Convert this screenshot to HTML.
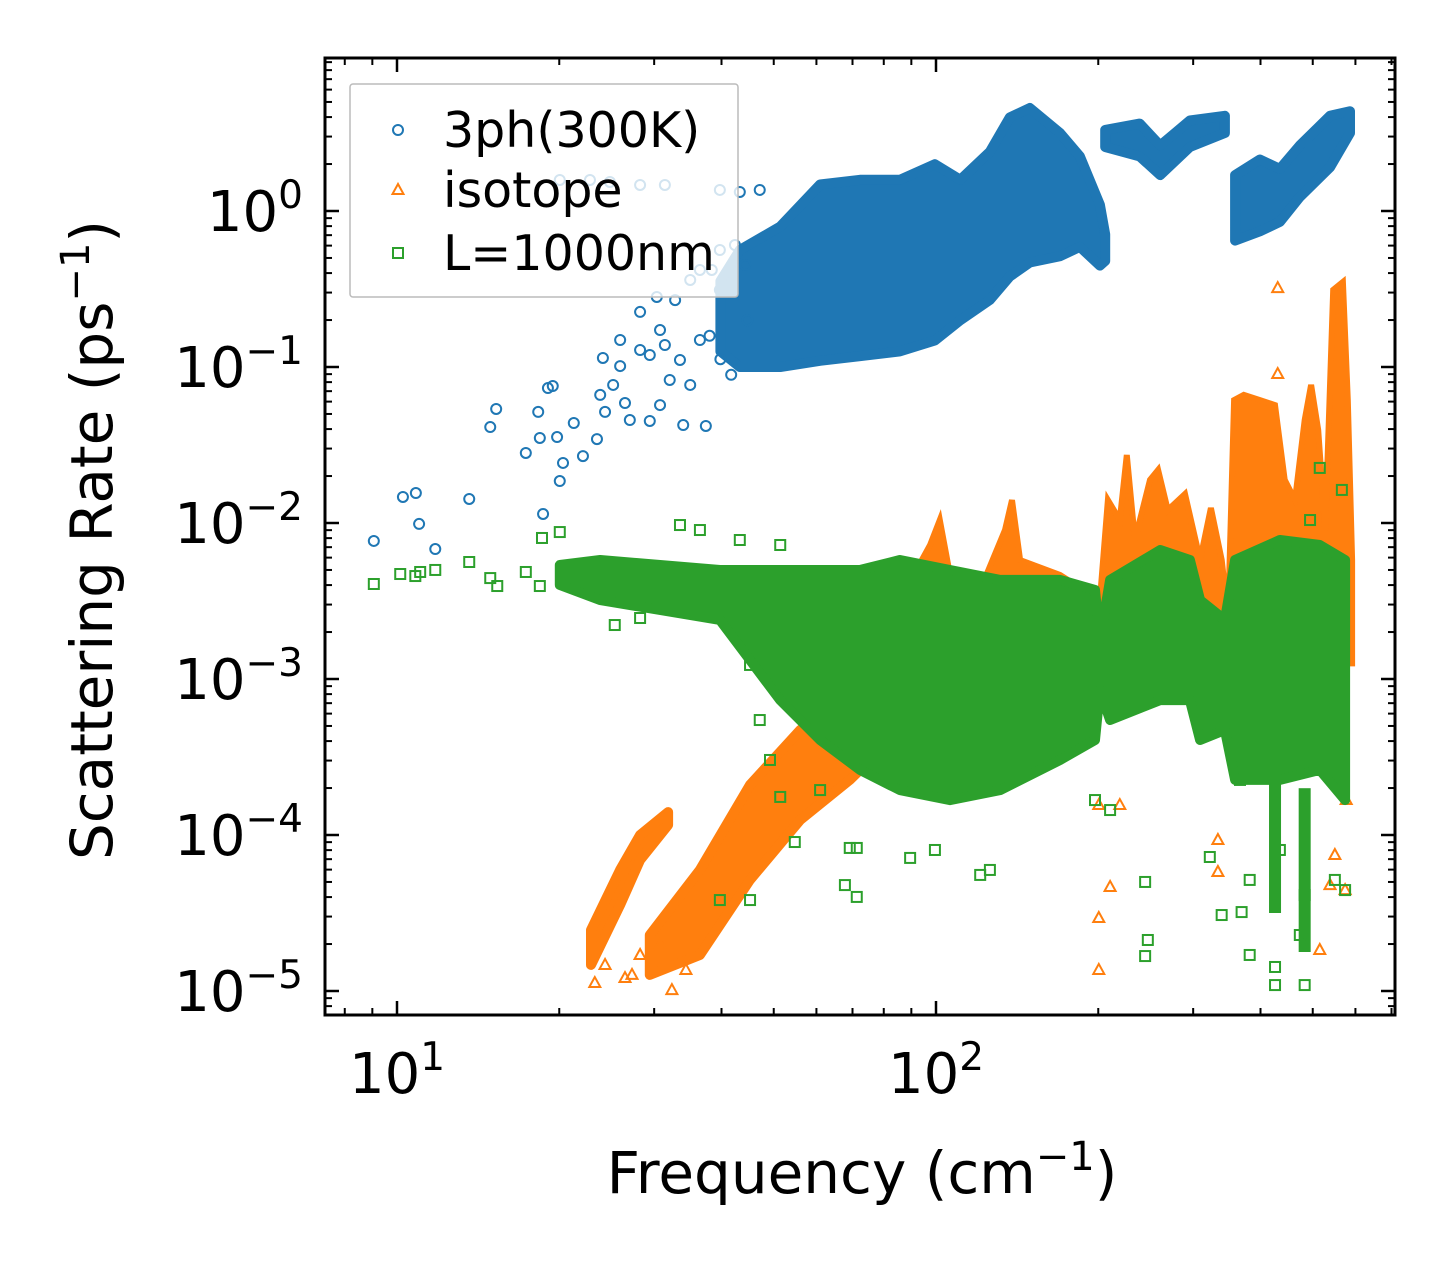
<!DOCTYPE html>
<html><head><meta charset="utf-8"><style>
html,body{margin:0;padding:0;background:#fff;}
svg{display:block;font-family:"DejaVu Sans","Liberation Sans",sans-serif;}
</style></head><body>
<svg id="chart" width="1455" height="1265" viewBox="0 0 1455 1265" xmlns="http://www.w3.org/2000/svg">
<rect width="1455" height="1265" fill="#fff"/>
<defs><clipPath id="plotclip"><rect x="325" y="58" width="1070" height="957"/></clipPath></defs>
<g id="marks" clip-path="url(#plotclip)"></g>
<g id="axes"></g>
<g id="legend"></g>
</svg>
<script>
// All values are log10 of frequency (cm^-1) and log10 of scattering rate (ps^-1)
const xTickDecades=[1,2];
const yTickDecades=[-5,-4,-3,-2,-1,0];
const legendLabels=["3ph(300K)","isotope","L=1000nm"];
const seriesColors=["#1f77b4","#ff7f0e","#2ca02c"];

// 3ph sparse points
const bluePtsF=[0.957,1.011,1.035,1.041,1.071,1.134,1.173,1.184,1.239,1.262,1.265,1.271,1.280,1.289,1.297,1.302,1.308,1.328,1.345,1.371,1.382,1.386,1.401,1.414,1.423,1.451,1.469,1.482,1.488,1.506,1.531,1.544,1.562,1.573,1.584,1.618,1.469,1.497,1.525,1.544,1.414,1.451,1.377,1.432,1.488,1.516,1.599,1.646,1.302,1.358,1.395,1.451,1.497,1.599,1.636,1.673,1.562,1.599,1.627,1.600,1.620,1.650,1.580];
const bluePtsR=[-2.115,-1.833,-1.808,-2.006,-2.167,-1.846,-1.385,-1.269,-1.551,-1.288,-1.455,-1.942,-1.135,-1.122,-1.449,-1.731,-1.615,-1.359,-1.571,-1.462,-0.942,-1.288,-1.115,-0.994,-1.231,-0.647,-1.346,-0.551,-0.763,-1.083,-1.372,-0.442,-0.827,-1.378,-0.378,-0.410,-0.923,-0.859,-0.955,-1.115,-0.827,-0.891,-1.179,-1.340,-1.244,-0.571,-0.25,-0.346,0.199,0.199,0.186,0.167,0.167,0.135,0.122,0.135,-0.378,-0.506,-0.218,-0.95,-1.05,-0.70,-0.80];
// 3ph dense clusters (envelopes)
const blueBand1F=[1.600,1.636,1.711,1.785,1.859,1.933,1.998,2.045,2.100,2.137,2.174,2.230,2.267,2.304,2.314];
const blueBand1Hi=[-0.45,-0.25,-0.1,0.17,0.2,0.2,0.3,0.2,0.38,0.6,0.66,0.5,0.35,0.04,-0.15];
const blueBand1Lo=[-0.9,-1.0,-1.0,-0.96,-0.93,-0.9,-0.83,-0.7,-0.57,-0.42,-0.33,-0.29,-0.23,-0.35,-0.32];
const blueBand2F=[2.314,2.378,2.416,2.471,2.536];
const blueBand2Hi=[0.52,0.56,0.42,0.58,0.61];
const blueBand2Lo=[0.41,0.35,0.23,0.41,0.5];
const blueBand3F=[2.555,2.601,2.638,2.675,2.731,2.768];
const blueBand3Hi=[0.23,0.33,0.27,0.42,0.61,0.64];
const blueBand3Lo=[-0.19,-0.13,-0.07,0.09,0.28,0.5];

// isotope
const orangeBandAF=[1.360,1.414,1.451,1.503];
const orangeBandAHi=[-4.609,-4.224,-4.0,-3.853];
const orangeBandALo=[-4.833,-4.449,-4.16,-3.936];
const orangeBandBF=[1.469,1.562,1.655,1.748,1.840,1.878];
const orangeBandBHi=[-4.641,-4.224,-3.679,-3.327,-3.071,-3.006];
const orangeBandBLo=[-4.897,-4.769,-4.288,-3.904,-3.647,-3.519];
const orangeSpikeF=[1.859,1.933,1.989,2.007,2.026,2.082,2.128,2.141,2.156,2.230,2.304,2.319,2.341,2.354,2.369,2.397,2.412,2.430,2.462,2.490,2.510,2.530,2.542,2.553,2.571,2.601,2.629,2.647,2.666,2.684,2.696,2.709,2.722,2.737,2.755,2.764,2.772];
const orangeSpikeHi=[-3.071,-2.494,-2.141,-1.981,-2.333,-2.429,-2.045,-1.853,-2.237,-2.333,-2.494,-1.853,-1.981,-1.564,-2.109,-1.724,-1.660,-1.917,-1.814,-2.237,-1.904,-2.237,-2.6,-1.212,-1.179,-1.212,-1.244,-1.724,-1.853,-1.340,-1.115,-1.404,-2.045,-0.506,-0.455,-1.212,-2.237];
const orangeSpikeLo=-2.9;
const orangePtsF=[2.634,2.634,2.302,2.302,2.323,2.302,2.341,2.523,2.523,2.712,2.731,2.759,2.740,2.761,1.367,1.386,1.423,1.436,1.510,1.536,1.451,1.488];
const orangePtsR=[-0.494,-1.045,-4.865,-4.532,-4.333,-3.808,-3.808,-4.237,-4.032,-4.737,-4.321,-4.353,-4.128,-3.776,-4.949,-4.833,-4.917,-4.897,-4.994,-4.865,-4.769,-4.705];

// L=1000nm
const greenBandF=[1.302,1.377,1.488,1.599,1.655,1.711,1.785,1.859,1.933,2.026,2.119,2.230,2.295,2.304,2.323,2.416,2.471,2.490,2.536,2.555,2.638,2.712,2.759];
const greenBandHi=[-2.269,-2.237,-2.269,-2.301,-2.301,-2.301,-2.301,-2.301,-2.237,-2.301,-2.365,-2.365,-2.429,-2.75,-2.365,-2.173,-2.237,-2.494,-2.622,-2.237,-2.109,-2.141,-2.237];
const greenBandLo=[-2.397,-2.494,-2.558,-2.622,-2.878,-3.135,-3.391,-3.583,-3.712,-3.776,-3.712,-3.519,-3.391,-3.071,-3.263,-3.135,-3.135,-3.391,-3.327,-3.647,-3.647,-3.583,-3.776];
const greenPtsF=[0.957,1.006,1.034,1.043,1.071,1.134,1.173,1.186,1.239,1.269,1.265,1.302,1.451,1.404,1.525,1.562,1.636,1.711,1.655,1.673,1.692,1.711,1.738,1.655,1.599,1.785,1.840,1.853,1.831,1.853,1.952,1.998,2.082,2.100,2.295,2.323,2.388,2.388,2.393,2.508,2.530,2.567,2.582,2.629,2.629,2.684,2.684,2.675,2.712,2.753,2.694,2.564,2.638,2.740,2.759,2.582,2.267];
const greenPtsR=[-2.391,-2.327,-2.340,-2.314,-2.301,-2.250,-2.353,-2.404,-2.314,-2.096,-2.404,-2.058,-2.609,-2.654,-2.013,-2.045,-2.109,-2.141,-2.910,-3.263,-3.519,-3.756,-4.045,-4.417,-4.417,-3.712,-4.083,-4.083,-4.321,-4.397,-4.147,-4.096,-4.256,-4.224,-3.776,-3.840,-4.776,-4.301,-4.673,-4.141,-4.513,-4.494,-4.769,-4.846,-4.962,-4.962,-4.385,-4.641,-1.647,-1.788,-1.981,-3.647,-4.096,-4.288,-4.353,-4.288,-3.135];
const greenStripF=[2.629,2.684];
const greenStripHi=[-2.8,-3.7];
const greenStripLo=[-4.5,-4.75];

const NS="http://www.w3.org/2000/svg";
const X=lf=>397+(lf-1)*539;
const Y=lr=>211-lr*156;
const marks=document.getElementById('marks');
const axes=document.getElementById('axes');
const legend=document.getElementById('legend');
function mk(tag,attrs,parent){const e=document.createElementNS(NS,tag);for(const k in attrs)e.setAttribute(k,attrs[k]);parent.appendChild(e);return e;}

function band(F,Hi,Lo,color,name){
  let pts=[];
  for(let i=0;i<F.length;i++)pts.push(X(F[i]).toFixed(1)+","+Y(Hi[i]).toFixed(1));
  for(let i=F.length-1;i>=0;i--)pts.push(X(F[i]).toFixed(1)+","+Y(Lo[i]).toFixed(1));
  const p=mk('polygon',{points:pts.join(' '),fill:color,stroke:color,'stroke-width':10,'stroke-linejoin':'round'},marks);
  
  
}
function spikes(F,Hi,lo,color,name){
  let pts=[X(F[0]).toFixed(1)+","+Y(lo).toFixed(1)];
  for(let i=0;i<F.length;i++)pts.push(X(F[i]).toFixed(1)+","+Y(Hi[i]).toFixed(1));
  pts.push(X(F[F.length-1]).toFixed(1)+","+Y(lo).toFixed(1));
  const p=mk('polygon',{points:pts.join(' '),fill:color,stroke:color,'stroke-width':6,'stroke-linejoin':'miter'},marks);
  
  
}
function marker(type,cx,cy,color,parent){
  let e;
  if(type==='o')e=mk('circle',{cx:cx,cy:cy,r:5,fill:'none',stroke:color,'stroke-width':2},parent);
  else if(type==='^')e=mk('polygon',{points:`${cx},${cy-6} ${cx-5.5},${cy+4} ${cx+5.5},${cy+4}`,fill:'none',stroke:color,'stroke-width':2},parent);
  else e=mk('rect',{x:cx-5,y:cy-5,width:10,height:10,fill:'none',stroke:color,'stroke-width':2},parent);
  return e;
}
function points(F,R,type,color,name){
  for(let i=0;i<F.length;i++){
    const e=marker(type,X(F[i]),Y(R[i]),color,marks);
    
    
  }
}
band(blueBand1F,blueBand1Hi,blueBand1Lo,seriesColors[0],'3ph-cluster-main');
band(blueBand2F,blueBand2Hi,blueBand2Lo,seriesColors[0],'3ph-cluster-mid');
band(blueBand3F,blueBand3Hi,blueBand3Lo,seriesColors[0],'3ph-cluster-high');
points(bluePtsF,bluePtsR,'o',seriesColors[0],'3ph-point');
band(orangeBandAF,orangeBandAHi,orangeBandALo,seriesColors[1],'isotope-branch-a');
band(orangeBandBF,orangeBandBHi,orangeBandBLo,seriesColors[1],'isotope-branch-b');
spikes(orangeSpikeF,orangeSpikeHi,orangeSpikeLo,seriesColors[1],'isotope-spikes');
points(orangePtsF,orangePtsR,'^',seriesColors[1],'isotope-point');
band(greenBandF,greenBandHi,greenBandLo,seriesColors[2],'boundary-cluster');
for(let i=0;i<greenStripF.length;i++){
  const r=mk('rect',{x:X(greenStripF[i])-6,y:Y(greenStripHi[i]),width:12,height:Y(greenStripLo[i])-Y(greenStripHi[i]),fill:seriesColors[2]},marks);
  
  
}
points(greenPtsF,greenPtsR,'s',seriesColors[2],'boundary-point');

const frame=mk('rect',{x:325,y:58,width:1070,height:957,fill:'none',stroke:'#000','stroke-width':3},axes);


const xmin=1+(325-397)/539, xmax=1+(1395-397)/539, ymin=(211-1015)/156, ymax=(211-58)/156;
function tick(x1,y1,x2,y2,w,name){const t=mk('line',{x1,y1,x2,y2,stroke:'#000','stroke-width':w},axes);}
for(let d=0;d<=3;d++){for(let m=1;m<=9;m++){
  const lf=d+Math.log10(m); if(lf<xmin||lf>xmax)continue;
  const x=X(lf), L=m===1?14:7, w=m===1?2.5:2;
  tick(x,1015,x,1015-L,w,'x-tick');tick(x,58,x,58+L,w,'x-tick-top');
}}
for(let d=-6;d<=1;d++){for(let m=1;m<=9;m++){
  const lr=d+Math.log10(m); if(lr<ymin||lr>ymax)continue;
  const y=Y(lr), L=m===1?14:7, w=m===1?2.5:2;
  tick(325,y,325+L,y,w,'y-tick');tick(1395,y,1395-L,y,w,'y-tick-right');
}}
xTickDecades.forEach(d=>{
  const t=mk('text',{x:X(d),y:1093,'text-anchor':'middle','font-size':56,fill:'#000'},axes);
  
  
  t.innerHTML=`10<tspan dy="-23" font-size="39">${d}</tspan>`;
});
yTickDecades.forEach(d=>{
  const t=mk('text',{x:303,y:Y(d)+20,'text-anchor':'end','font-size':56,fill:'#000'},axes);
  
  
  const s=d<0?'\u2212'+(-d):''+d;
  t.innerHTML=`10<tspan dy="-23" font-size="39">${s}</tspan>`;
});
const xt=mk('text',{x:862,y:1193,'text-anchor':'middle','font-size':58,fill:'#000'},axes);


xt.innerHTML='Frequency (cm<tspan dy="-23" font-size="40">\u22121</tspan><tspan dy="23">)</tspan>';
const yt=mk('text',{x:0,y:0,'text-anchor':'middle','font-size':58,fill:'#000',transform:'translate(112,540) rotate(-90)'},axes);


yt.innerHTML='Scattering Rate (ps<tspan dy="-23" font-size="40">\u22121</tspan><tspan dy="23">)</tspan>';

const lb=mk('rect',{x:350,y:84,width:388,height:213,fill:'#fff','fill-opacity':0.8,stroke:'#bbb','stroke-width':1.5,rx:3},legend);


const types=['o','^','s'], ly=[130,190,253];
legendLabels.forEach((lab,i)=>{
  const g=mk('g',{},legend);
  
  
  marker(types[i],398,ly[i],seriesColors[i],g);
  const t=mk('text',{x:443,y:ly[i]+17,'font-size':49,fill:'#000'},g);
  t.textContent=lab;
});
</script>
</body></html>
